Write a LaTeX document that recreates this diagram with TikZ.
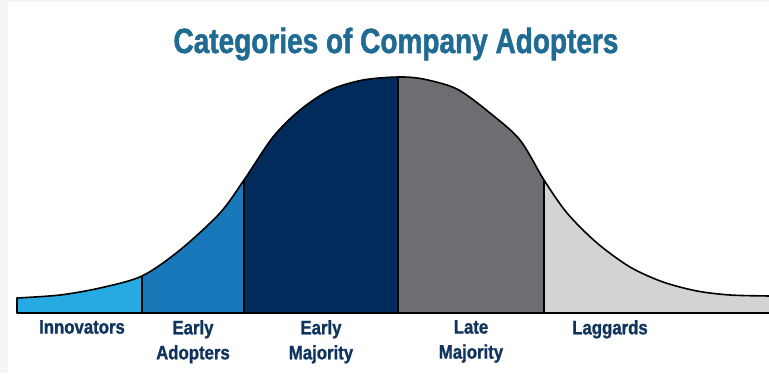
\documentclass[tikz,border=0pt]{standalone}
\usepackage{fontspec}
\setmainfont{Liberation Sans}
\newfontfamily\titlefont[FakeStretch=0.80,FakeBold=1.4]{Liberation Sans}
\newfontfamily\lblfont[FakeStretch=0.86,FakeBold=1.2]{Liberation Sans}

\definecolor{titleblue}{RGB}{31,107,148}
\definecolor{lblnavy}{RGB}{16,52,94}
\definecolor{innovblue}{RGB}{39,170,225}
\definecolor{earlyblue}{RGB}{24,120,186}
\definecolor{majnavy}{RGB}{0,43,90}
\definecolor{lategray}{RGB}{109,110,113}
\definecolor{laggray}{RGB}{209,211,212}
\definecolor{stripgray}{RGB}{243,245,248}

\begin{document}
\begin{tikzpicture}[x=1pt,y=-1pt,
  every node/.style={inner sep=0pt,text=lblnavy,align=center,anchor=north,
    font=\lblfont\bfseries\fontsize{19.5}{25}\selectfont},
  outline/.style={draw=black,line width=1.6pt,line join=round}]

\useasboundingbox (0,0) rectangle (769,373);
\fill[stripgray] (0,0) rectangle (8,373);
\fill[stripgray] (0,0) rectangle (769,2);

\node[font=\titlefont\bfseries\fontsize{35}{40}\selectfont,text=titleblue,anchor=base] (title) at (396,53) {Categories of Company Adopters};

\path[save path=\bellcurve] (17,313) -- plot[smooth,tension=0.5] coordinates {
  (17,298) (60,295) (100,288) (142,276) (180,250) (220,213) (244,180)
  (273,137) (300,110) (330,90) (363,80) (398,77) (423,79) (457,89)
  (490,113) (520,140) (544,180) (567,213) (597,243) (630,267) (663,282)
  (697,291) (730,295) (769,296) (775,296)} -- (775,313) -- cycle;

\begin{scope}
\path[clip,use path=\bellcurve];
\fill[innovblue] (17,60) rectangle (142,320);
\fill[earlyblue] (142,60) rectangle (244,320);
\fill[majnavy] (244,60) rectangle (398,320);
\fill[lategray] (398,60) rectangle (544,320);
\fill[laggray] (544,60) rectangle (780,320);
\end{scope}

\draw[outline] (17,313) -- plot[smooth,tension=0.5] coordinates {
  (17,298) (60,295) (100,288) (142,276) (180,250) (220,213) (244,180)
  (273,137) (300,110) (330,90) (363,80) (398,77) (423,79) (457,89)
  (490,113) (520,140) (544,180) (567,213) (597,243) (630,267) (663,282)
  (697,291) (730,295) (769,296) (775,296)} -- (775,313) -- cycle;

\coordinate (t1) at (142,276);
\coordinate (b1) at (142,313);
\coordinate (t2) at (244,180);
\coordinate (b2) at (244,313);
\coordinate (t3) at (398,77);
\coordinate (b3) at (398,313);
\coordinate (t4) at (544,180);
\coordinate (b4) at (544,313);

\draw[outline] (t1) -- (b1);
\draw[outline] (t2) -- (b2);
\draw[outline] (t3) -- (b3);
\draw[outline] (t4) -- (b4);

\node (innov) at (82,320) {Innovators};
\node (early) at (193,320) {Early\\Adopters};
\node (earlymaj) at (321,320) {Early\\Majority};
\node (latemaj) at (471,320) {Late\\Majority};
\node (lagg) at (610,320) {Laggards};
\end{tikzpicture}
\end{document}
